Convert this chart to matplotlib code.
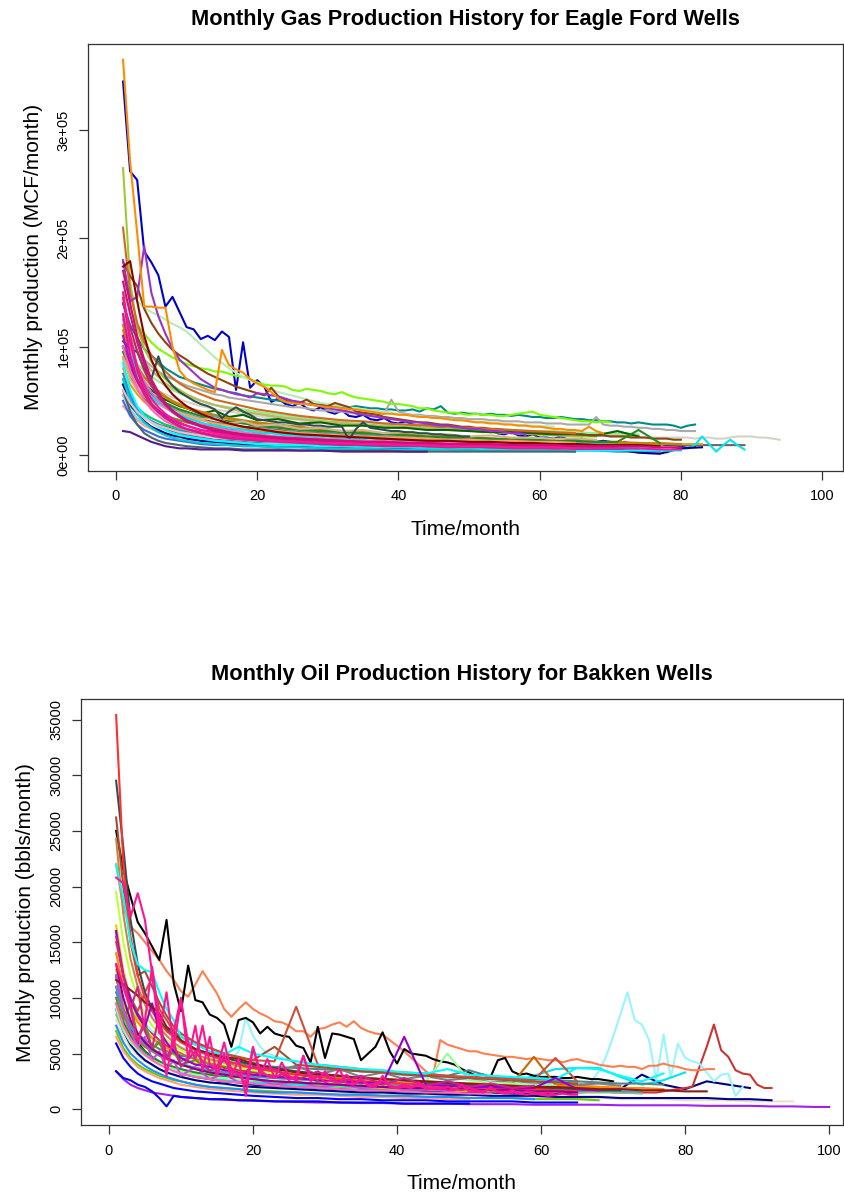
import matplotlib
matplotlib.use("Agg")
import matplotlib.pyplot as plt

plt.rcParams['font.family'] = ['Liberation Sans', 'DejaVu Sans']

# === GAS: Eagle Ford, thousand MCF per month ===
# coarse month grid used by most wells
gas_grid = [1, 2, 3, 4, 5, 6, 7, 8, 9, 10, 12, 14, 16, 18, 20, 23, 26, 29, 32, 35,
            38, 41, 44, 47, 50, 53, 56, 59, 62, 65, 68, 71, 74, 77, 80, 83, 86, 89, 92]

# wells read month by month (start at month 1)
gas_blue = [345, 262, 254, 188, 178, 166, 137, 146, 132, 118, 116, 107, 110, 106, 114, 109, 60, 104, 62, 69,
            63, 49, 52, 47, 45, 48, 43, 41, 44, 40, 38, 41, 36, 35, 37, 33, 32, 34, 30, 29,
            31, 28, 27, 29, 26, 25, 27, 24, 23, 25, 22, 21, 23, 20, 19, 21, 18, 17, 19, 16,
            16, 15, 17, 14, 14, 15, 13, 12, 13, 12, 11, 12, 10, 10, 10, 9, 10, 9, 9, 8, 9, 8]
gas_orange = [365, 271, 205, 137, 137, 136, 136, 100, 78, 70, 66, 63, 60, 58, 97, 83, 79, 76, 70, 66,
              63, 58, 52, 49, 48, 47, 47, 46, 45, 44, 44, 43, 42, 42, 41, 40, 39, 38, 38, 37,
              37, 36, 35, 35, 34, 34, 33, 32, 32, 31, 30, 30, 29, 29, 28, 28, 27, 27, 26, 26,
              25, 24, 24, 23, 23, 22, 26, 22, 20]
gas_purple = [180, 142, 146, 193, 150, 128, 112, 98, 88, 82, 76, 70, 66, 62, 60, 58, 56, 55, 53, 57,
              56, 55, 54, 52, 50, 49, 47, 46, 45, 43, 42, 41, 40, 38, 37, 36, 35, 34, 33, 32,
              31, 30, 30, 29, 28, 27, 27, 26, 25, 24, 24, 23, 22, 22, 21, 20, 20, 19]
gas_lawngreen = [150, 135, 120, 112, 104, 98, 94, 90, 87, 84, 82, 80, 79, 77, 77, 75, 73, 72, 70, 67,
                 65, 64, 64, 63, 60, 59, 61, 60, 59, 57, 56, 58, 55, 53, 52, 51, 50, 49, 47, 47,
                 46, 45, 43, 43, 41, 40, 39, 39, 38, 37, 38, 37, 37, 36, 36, 37, 38, 39, 40, 37,
                 36, 35, 34, 33, 32, 31, 31, 30, 31, 30]
gas_teal = [140, 120, 108, 98, 92, 86, 80, 76, 72, 70, 67, 65, 63, 61, 60, 58, 57, 55, 54, 53,
            52, 51, 50, 49, 48, 47, 47, 46, 46, 45, 45, 44, 44, 45, 44, 43, 43, 42, 42, 41,
            41, 42, 40, 43, 42, 45, 39, 38, 39, 38, 38, 37, 38, 37, 37, 36, 37, 36, 35, 35,
            34, 34, 35, 34, 33, 33, 32, 32, 31, 31, 30, 30, 29, 30, 29, 28, 28, 28, 27, 25, 27, 28]
gas_gray = [120, 105, 95, 88, 82, 77, 73, 70, 67, 64, 62, 60, 58, 56, 55, 53, 52, 51, 50, 49,
            48, 47, 46, 45, 44, 44, 43, 42, 41, 41, 40, 40, 39, 39, 38, 38, 37, 38, 51, 40,
            38, 37, 37, 36, 36, 35, 35, 34, 34, 33, 33, 33, 32, 32, 31, 31, 31, 30, 30, 30,
            29, 29, 29, 28, 28, 28, 28, 35, 28, 27, 27, 26, 26, 25, 25, 24, 24, 23, 23, 22, 22, 22]
gas_beige = [95, 82, 74, 68, 63, 59, 56, 53, 51, 49, 47, 45, 44, 42, 41, 40, 39, 38, 37, 36,
             35, 35, 34, 33, 33, 32, 31, 31, 30, 30, 29, 29, 28, 28, 28, 27, 27, 26, 26, 26,
             25, 25, 25, 24, 24, 24, 23, 23, 23, 22, 22, 22, 21, 21, 21, 21, 20, 20, 20, 20,
             19, 19, 19, 19, 18, 18, 18, 18, 18, 17, 17, 17, 17, 17, 16, 16, 16, 16, 16, 16,
             16, 15, 16, 16, 15, 15, 16, 17, 17, 17, 16, 16, 15, 14]
gas_cyan = [130, 95, 75, 62, 54, 48, 44, 40, 37, 34, 32, 30, 28, 27, 26, 25, 24, 23, 22, 21,
            20, 20, 19, 18, 18, 17, 17, 16, 16, 15, 15, 15, 14, 14, 14, 13, 13, 13, 12, 12,
            12, 12, 11, 11, 11, 11, 10, 10, 10, 10, 10, 9, 9, 9, 9, 9, 9, 8, 8, 8,
            8, 8, 8, 8, 7, 7, 7, 7, 7, 7, 7, 6, 6, 6, 6, 6, 6, 2, 6, 6, 6, 9, 17, 10, 3, 9, 14, 9, 5]
gas_slate = [105, 98, 95, 80, 70, 91, 72, 64, 58, 54, 50, 47, 45, 42, 34, 40, 44, 40, 37, 33,
             32, 31, 30, 30, 29, 28, 28, 27, 27, 26, 26, 26, 14, 24, 30, 25, 24, 23, 22, 22,
             21, 21, 20, 20, 19, 19, 18, 18, 17, 17]
gas_brown = [178, 165, 156, 135, 122, 112, 104, 97, 92, 88, 83, 79, 75, 72, 69, 66, 63, 61, 59, 57,
             55, 62, 54, 51, 49, 48, 51, 47, 46, 45, 48, 46, 44, 40, 39, 38, 37, 35, 34, 33,
             32, 31, 30, 30, 29, 28, 28, 27, 26, 26, 25, 25, 24, 24, 23, 23, 22, 22, 21, 21,
             21, 20, 20, 20, 19, 19, 18, 18, 18, 17, 17, 17, 16, 16, 16, 15, 15, 15, 14, 14]

# wells read on gas_grid
gas_yellowgreen = [265, 160, 118, 98, 86, 77, 70, 64, 60, 56, 50, 46, 43, 40, 38, 35, 33, 31, 29, 27,
                   26, 25, 24, 23, 22, 21, 20, 19, 18, 17, 17]
gas_chocolate = [210, 150, 122, 104, 92, 84, 77, 71, 66, 62, 56, 51, 48, 45, 42, 39, 36, 34, 32, 31,
                 29, 28, 27, 26, 25, 24, 23, 22, 21, 20]
gas_darkred = [174, 179, 142, 110, 88, 74, 64, 56, 50, 45, 38, 33, 29, 26, 24, 21, 19, 18, 17, 16,
               15, 14, 13, 13, 12, 12, 11, 11, 10, 10, 9, 9, 9, 8]
gas_palegreen = [160, 150, 142, 136, 132, 129, 125, 121, 118, 114, 102, 90, 80, 72, 66, 58, 53, 48, 45, 42,
                 40, 37, 35, 33, 31, 30, 28, 27, 26]
gas_goldenrod = [120, 95, 82, 72, 65, 59, 54, 50, 47, 44, 40, 37, 34, 32, 30, 28, 26, 24, 22, 21,
                 20, 19, 18, 17, 16, 15, 14, 14, 13, 12, 12, 11, 11, 10, 10]
gas_forest = [95, 80, 70, 62, 56, 52, 48, 45, 42, 40, 36, 33, 31, 29, 27, 25, 23, 22, 21, 20,
              19, 18, 17, 16, 16, 15, 14, 14, 13, 13, 12, 12, 23, 11]
gas_cadet = [110, 88, 74, 64, 57, 51, 47, 44, 41, 38, 34, 36, 28, 31, 24, 26, 20, 22, 18, 19,
             16, 17, 14, 15, 13, 14, 12, 12, 11, 11, 10, 9]
gas_pink1 = [150, 110, 82, 64, 52, 44, 38, 33, 30, 27, 23, 20, 18, 16, 15, 13, 12, 11, 11, 10,
             10, 9, 9, 8, 8, 8, 7, 7, 7, 6, 6, 6, 6, 5, 5]
gas_violet = [160, 130, 104, 84, 68, 56, 47, 40, 35, 31, 26, 22, 20, 18, 17, 15, 14, 13, 12, 12,
              11, 11, 10, 10, 9, 9, 9, 8, 8, 8, 7, 7]
gas_pink2 = [130, 92, 70, 56, 46, 39, 34, 30, 27, 24, 21, 18, 16, 15, 14, 13, 12, 11, 10, 10,
             9, 9, 8, 8, 8, 7, 7, 7, 6, 6, 6]
gas_maroon = [140, 118, 96, 78, 64, 54, 46, 40, 36, 32, 27, 24, 21, 19, 18, 16, 15, 14, 13, 12,
              12, 11, 11, 10, 10, 9, 9, 9, 8]
gas_hotpink = [100, 78, 62, 50, 42, 36, 31, 28, 25, 23, 20, 18, 16, 15, 14, 13, 12, 11, 10, 10,
               9, 9, 8, 8, 8, 7, 7]
gas_aqua = [85, 60, 45, 36, 30, 26, 23, 20, 18, 17, 15, 13, 12, 11, 10, 9, 9, 8, 8, 7,
            7, 7, 6, 6, 6, 5, 5, 5, 5, 4, 4, 4, 4, 4, 4]
gas_turq = [70, 50, 38, 30, 25, 21, 18, 16, 14, 13, 11, 10, 9, 8, 8, 7, 7, 6, 6, 6,
            5, 5, 5, 5, 4, 4, 4, 4, 4, 3]
gas_purple4 = [22, 21, 18, 15, 12, 10, 8, 7, 6, 6, 5, 5, 5, 4, 4, 4, 4, 4, 3, 3, 3, 3, 3]
gas_slate2 = [60, 40, 28, 20, 16, 13, 11, 10, 9, 8, 7, 6, 6, 5, 5, 5, 4, 4, 4, 4,
              4, 3, 3, 3, 3, 3, 3, 3, 3, 3]
gas_steel = [75, 56, 44, 36, 31, 27, 24, 22, 20, 18, 16, 14, 13, 12, 11, 10, 9, 9, 8, 8,
             7, 7, 7, 6, 6, 6, 6, 5, 5, 5, 5, 5, 5]
gas_salmon = [45, 38, 32, 27, 24, 21, 19, 17, 16, 15, 13, 12, 11, 10, 10, 9, 9, 8, 8, 7,
              7, 7, 6, 6, 6, 6, 5]
gas_orange2 = [115, 95, 82, 72, 64, 58, 53, 49, 46, 43, 39, 36, 33, 31, 29, 27, 25, 23, 22, 21,
               20, 19, 18, 17, 16, 15, 15, 14, 13, 13, 12, 12, 11, 11, 10, 10]
gas_olive = [90, 72, 60, 52, 46, 41, 37, 34, 32, 30, 27, 29, 23, 25, 20, 21, 17, 18, 15, 16,
             14, 13, 13, 12, 12, 11, 11, 10, 10, 10, 9]
gas_orchid = [125, 100, 82, 68, 58, 50, 44, 39, 35, 32, 28, 25, 23, 21, 19, 17, 16, 15, 14, 13,
              13, 12, 12, 11, 11, 10, 10, 10, 9]
gas_navy = [65, 48, 38, 31, 26, 23, 20, 18, 17, 15, 13, 12, 11, 10, 9, 9, 8, 8, 7, 7,
            7, 6, 6, 6, 6, 5, 5, 5, 5, 5, 5, 5, 2, 1, 6, 7]
gas_lightgreen = [105, 92, 84, 78, 72, 68, 64, 60, 57, 54, 50, 46, 44, 42, 40, 37, 35, 33, 32, 30,
                  29, 28, 27, 26, 25, 24, 23, 22, 22, 21, 20, 20, 19]
gas_gold = [80, 65, 56, 49, 44, 40, 37, 34, 32, 30, 28, 26, 24, 23, 22, 20, 19, 18, 17, 16,
            16, 15, 15, 14, 14, 13, 13, 12, 12, 12, 11, 11, 11, 10, 10, 10]
gas_seagreen = [55, 45, 39, 34, 31, 28, 26, 24, 22, 21, 19, 17, 16, 15, 14, 13, 12, 12, 11, 11,
                10, 10, 9, 9, 9, 8, 8, 8]
gas_royal = [50, 36, 28, 23, 20, 17, 15, 14, 13, 12, 10, 9, 9, 8, 8, 7, 7, 6, 6, 6,
             5, 5, 5, 5, 4, 4, 4, 4, 4, 4, 4, 3, 3, 3]
gas_gray40 = [100, 80, 68, 60, 54, 49, 45, 42, 39, 37, 33, 30, 28, 26, 25, 23, 21, 20, 19, 18,
              17, 16, 15, 15, 14, 13, 13, 12, 12, 11, 11, 10, 10, 10, 9, 9, 9, 9]
gas_sandy = [90, 75, 65, 58, 52, 47, 43, 40, 37, 35, 32, 29, 27, 25, 24, 22, 20, 19, 18, 17,
             16, 16, 15, 14, 14, 13, 13, 12, 12, 11]
gas_magenta = [110, 85, 68, 56, 47, 41, 36, 32, 29, 27, 23, 21, 19, 17, 16, 15, 14, 13, 12, 11,
               11, 10, 10, 9, 9, 9, 8, 8]
gas_violetred = [145, 105, 78, 60, 48, 40, 34, 30, 26, 24, 20, 17, 15, 14, 13, 12, 11, 10, 9, 9,
                 8, 8, 8, 7, 7, 7, 6, 6, 6, 6]
gas_tan = [88, 70, 60, 55, 50, 47, 44, 41, 39, 37, 33, 34, 29, 31, 27, 28, 24, 25, 22, 23,
           20, 21, 19, 19, 17, 18, 16, 16, 15, 15, 14]
gas_darkgreen = [100, 85, 74, 66, 60, 55, 51, 48, 45, 43, 38, 41, 35, 37, 32, 33, 29, 30, 27, 27,
                 25, 25, 23, 23, 22, 21, 21, 20, 19, 19, 18, 22, 17]
gas_dodger = [70, 52, 42, 35, 31, 28, 25, 23, 22, 20, 18, 17, 15, 15, 13, 13, 12, 11, 11, 10,
              10, 9, 9, 9, 8, 8, 8, 7, 7, 7, 7, 6, 6]
gas_lightpink = [60, 48, 40, 34, 30, 27, 25, 23, 21, 20, 18, 16, 15, 14, 13, 12, 11, 11, 10, 10,
                 9, 9, 9, 8, 8, 8, 7]
gas_khaki = [130, 110, 96, 86, 78, 72, 66, 62, 58, 55, 50, 46, 43, 40, 38, 35, 33, 31, 30, 28,
             27, 26, 25, 24, 23, 22, 21, 20, 20, 19, 18, 18, 17]
gas_deeppink3 = [170, 140, 110, 88, 70, 58, 48, 41, 36, 32, 27, 23, 21, 19, 17, 16, 15, 14, 13, 12,
                 12, 11, 11, 10, 10, 10, 9, 9, 9, 8, 8, 8, 8, 7, 7]
gas_spring = [65, 52, 44, 38, 34, 31, 28, 26, 24, 22, 20, 18, 17, 16, 15, 14, 13, 12, 12, 11,
              11, 10, 10, 9, 9, 9, 8, 8, 8, 8]
gas_skyblue = [55, 42, 34, 29, 25, 22, 20, 18, 17, 16, 14, 13, 12, 11, 10, 10, 9, 9, 8, 8,
               8, 7, 7, 7, 7, 6, 6]

# === OIL: Bakken, thousand bbls per month ===
oil_grid = [1, 2, 3, 4, 5, 6, 7, 8, 9, 10, 12, 14, 16, 18, 20, 23, 26, 29, 32, 35,
            38, 41, 44, 47, 50, 53, 56, 59, 62, 65, 68, 71, 74, 77, 80, 83, 86, 89, 92, 95, 98, 100]

# wells read month by month (start at month 1)
oil_black = [25.0, 21.5, 19.1, 16.8, 15.8, 14.6, 13.4, 17.0, 11.3, 8.8, 12.9, 9.8, 9.6, 8.5, 8.2, 7.6, 5.6, 8.0, 8.2, 7.8,
             6.8, 7.4, 6.8, 6.6, 6.5, 5.7, 5.5, 4.2, 7.4, 4.6, 6.8, 6.7, 6.5, 6.3, 4.4, 5.0, 5.6, 6.9, 5.2, 4.1,
             5.4, 5.0, 4.9, 4.8, 4.5, 4.3, 4.2, 4.0, 3.6, 3.3, 3.0, 3.1, 2.9, 4.4, 4.6, 3.4, 3.1, 3.2, 3.0, 2.9,
             2.9, 2.9, 2.8, 2.8, 2.9, 2.8, 2.7, 2.7, 2.6, 2.5]
oil_coral = [22.0, 18.0, 16.4, 15.8, 15.0, 14.2, 13.4, 12.4, 11.6, 10.6, 10.1, 11.2, 12.4, 11.4, 10.4, 9.0, 8.3, 9.0, 9.6, 9.0,
             8.6, 8.3, 7.9, 7.8, 7.5, 7.0, 7.0, 6.5, 7.2, 7.3, 7.6, 7.8, 7.4, 7.9, 7.3, 7.0, 6.8, 6.7, 6.2, 5.7,
             5.2, 4.6, 4.0, 3.4, 3.0, 6.2, 5.8, 5.6, 5.4, 5.2, 5.2, 5.0, 4.9, 4.8, 4.7, 4.7, 4.6, 4.5, 4.6, 4.5,
             4.4, 4.4, 4.2, 4.4, 4.5, 4.3, 4.2, 4.0, 3.9, 3.8, 3.9, 3.8, 3.8, 3.6, 3.9, 3.9, 4.1, 3.9, 3.8, 3.6,
             3.5, 3.5, 3.6, 3.6]
oil_lightcyan = [14.0, 11.0, 9.0, 8.2, 7.6, 7.0, 6.6, 6.2, 5.9, 5.6, 5.4, 5.2, 5.0, 4.8, 4.7, 4.6, 4.5, 5.2, 8.2, 6.6,
                 5.6, 5.0, 4.8, 4.6, 4.4, 4.3, 4.2, 4.0, 3.9, 3.8, 3.7, 3.6, 3.6, 3.5, 3.4, 3.4, 3.3, 3.2, 3.2, 3.1,
                 3.0, 3.0, 2.9, 2.9, 2.8, 2.8, 2.7, 2.7, 2.7, 2.6, 2.6, 2.6, 2.5, 2.5, 2.5, 2.4, 2.4, 2.4, 2.4, 2.3,
                 2.3, 2.3, 2.2, 2.3, 2.4, 2.2, 2.5, 3.4, 4.7, 6.5, 8.5, 10.5, 8.0, 7.6, 6.2, 2.6, 6.7, 2.8, 5.9, 4.6,
                 4.3, 4.1, 3.3, 2.5, 3.1, 3.2, 1.2, 2.0]
oil_brown3 = [16.0, 12.0, 10.0, 8.6, 7.6, 6.8, 6.2, 5.7, 5.3, 5.0, 4.7, 4.5, 4.3, 4.1, 3.9, 3.7, 3.6, 3.5, 3.4, 3.3,
              3.2, 3.1, 3.0, 3.0, 2.9, 2.8, 2.8, 2.7, 2.7, 2.6, 2.6, 2.5, 2.5, 2.4, 2.4, 2.4, 2.3, 2.3, 2.3, 2.2,
              2.2, 2.2, 2.1, 2.1, 2.1, 2.0, 2.0, 2.0, 2.0, 1.9, 1.9, 1.9, 1.9, 1.8, 1.8, 1.8, 1.8, 1.8, 1.7, 1.7,
              1.7, 1.7, 1.7, 1.6, 1.6, 1.6, 1.6, 1.6, 1.6, 1.5, 1.5, 1.5, 1.5, 1.5, 1.5, 1.5, 1.6, 1.7, 1.8, 1.9,
              2.0, 3.8, 5.6, 7.6, 5.3, 4.7, 3.5, 3.2, 3.1, 2.2, 1.9, 1.9]
oil_pink1 = [20.8, 20.3, 17.3, 19.4, 17.0, 12.2, 6.8, 10.5, 5.5, 9.8, 6.0, 4.5, 7.5, 4.0, 3.6, 6.0, 3.4, 3.2, 2.2, 5.6,
             3.0, 4.5, 2.8, 3.2, 2.6, 3.0, 4.8, 2.9, 2.6, 3.4, 2.5, 2.4, 3.1, 2.3, 2.6, 2.2, 2.3, 2.5, 2.1, 2.0,
             2.2, 2.0, 2.1, 1.9, 2.0, 1.8, 2.0, 1.8, 1.7, 1.9, 1.7, 1.6, 1.8, 1.6, 1.5, 1.7, 1.4, 1.6, 1.5, 1.4,
             1.5, 1.3, 1.4, 1.3, 1.3]
oil_pink2 = [13.0, 11.0, 9.0, 6.0, 8.0, 12.8, 8.0, 3.0, 7.0, 10.0, 4.5, 7.5, 3.5, 6.5, 3.0, 5.0, 2.8, 4.5, 1.2, 5.5,
             3.5, 3.0, 2.8, 4.2, 3.0, 2.6, 4.8, 2.5, 3.0, 2.4, 2.6, 3.6, 2.3, 2.2, 2.8, 2.1, 2.0, 3.0, 2.0, 1.9,
             2.0, 1.9, 2.4, 1.8, 1.8, 2.0, 1.7, 1.7, 2.2, 1.6, 1.6, 1.5, 2.0, 1.5, 1.4, 1.5, 1.4, 1.3, 1.4, 1.3,
             1.2, 1.3]

# wells read on oil_grid
oil_red = [35.4, 22.0, 15.5, 12.0, 10.0, 8.8, 7.8, 7.0, 6.5, 6.0, 5.3, 4.8, 4.4, 4.0, 3.7, 3.4, 3.1, 2.9, 2.7, 2.5,
           2.4, 2.3, 2.2, 2.1, 2.0, 1.9, 1.8, 1.8, 1.7, 1.6]
oil_slate = [29.5, 23.5, 17.0, 13.0, 10.5, 9.0, 8.0, 7.2, 6.6, 6.1, 5.4, 4.9, 4.6, 4.3, 4.0, 3.7, 3.4, 3.2, 3.0, 2.8,
             2.7, 2.6, 2.4, 2.3, 2.2, 2.1, 2.0, 1.9, 1.9, 1.8, 1.7, 1.7]
oil_purple = [3.4, 2.7, 2.2, 1.9, 1.7, 1.5, 1.4, 1.3, 1.2, 1.1, 1.0, 0.9, 0.85, 0.8, 0.75, 0.7, 0.65, 0.6, 0.6, 0.55,
              0.55, 0.5, 0.5, 0.5, 0.45, 0.45, 0.45, 0.4, 0.4, 0.4, 0.4, 0.35, 0.35, 0.35, 0.35, 0.3, 0.3, 0.3, 0.25, 0.25,
              0.2, 0.2]
oil_maroon = [11.6, 11.2, 10.7, 10.2, 9.6, 9.2, 8.6, 7.4, 6.9, 6.2, 5.4, 5.0, 4.7, 4.5, 4.1, 3.6, 3.3, 3.1, 3.0, 2.8,
              2.7, 2.6, 2.5, 2.4, 2.3, 2.2, 2.1, 2.0, 2.0, 1.9, 1.8, 1.8, 1.7, 1.7, 1.6, 1.6]
oil_cyan = [21.9, 19.0, 15.0, 13.0, 12.5, 12.3, 10.5, 9.0, 8.0, 6.5, 5.8, 5.2, 4.9, 5.6, 5.0, 4.6, 4.3, 4.0, 3.8, 3.6,
            3.5, 3.3, 3.2, 3.6, 3.1, 3.0, 2.9, 2.8, 2.7, 3.7, 3.6, 3.0, 2.5, 3.2]
oil_greenyellow = [19.5, 15.0, 12.0, 10.0, 8.5, 7.5, 6.8, 6.2, 5.7, 5.3, 4.7, 4.3, 4.0, 3.7, 3.5, 3.2, 3.0, 2.8, 2.6, 2.5,
                   2.4, 2.3, 2.2, 2.1, 2.0, 1.9, 1.9, 1.8]
oil_sienna = [26.2, 20.0, 15.0, 12.0, 12.4, 11.0, 9.6, 8.4, 7.4, 6.8, 6.0, 5.5, 5.0, 4.7, 4.4, 5.6, 4.0, 3.8, 3.6, 3.4,
              3.3, 3.1, 3.0, 2.9, 2.8, 2.7, 2.6, 2.5, 2.4, 2.3]
oil_peru = [24.3, 17.5, 13.5, 11.0, 9.4, 8.2, 7.3, 6.6, 6.0, 5.5, 4.9, 4.5, 4.1, 3.8, 3.6, 3.3, 3.1, 2.9, 2.8, 2.6,
            2.5, 2.4, 2.3, 2.2, 2.1, 2.0, 2.0, 1.9, 1.8, 1.8, 1.7, 1.7]
oil_tomato = [15.0, 12.0, 10.0, 8.8, 10.5, 11.8, 9.0, 8.0, 7.0, 6.5, 5.8, 5.5, 5.0, 4.6, 4.4, 4.3, 9.2, 4.0, 3.8, 3.6,
              3.4, 3.3, 3.2, 3.0, 2.9, 2.8, 2.7, 2.6, 4.6, 2.5]
oil_orange = [14.0, 11.0, 9.0, 7.8, 7.0, 6.4, 5.9, 5.5, 5.2, 4.9, 4.5, 4.2, 3.9, 3.7, 3.5, 3.3, 3.1, 3.0, 2.9, 2.8,
              2.7, 2.6, 2.5, 2.4, 2.3, 2.3, 2.2, 2.1, 2.1, 2.0, 2.0, 1.9, 1.9, 1.8]
oil_darkviolet = [16.0, 12.0, 9.8, 8.4, 7.4, 9.5, 7.0, 6.0, 5.2, 4.6, 4.0, 3.8, 3.5, 3.3, 3.1, 2.9, 2.8, 2.6, 2.5, 2.4,
                  2.3, 6.5, 2.2, 2.1, 2.0, 2.0, 1.9, 1.9, 2.8, 1.8, 1.7]
oil_blue = [5.9, 4.6, 3.8, 3.2, 2.8, 2.5, 2.3, 2.1, 1.9, 1.8, 1.6, 1.5, 1.4, 1.3, 1.2, 1.1, 1.0, 1.0, 0.9, 0.9,
            0.8, 0.8, 0.8, 0.7, 0.7, 0.7, 0.7, 0.6, 0.6, 0.6]
oil_blue2 = [3.4, 2.8, 2.6, 2.2, 2.0, 1.6, 1.0, 0.25, 1.2, 1.1, 1.0, 0.9, 0.9, 0.8, 0.8, 0.7, 0.7, 0.7, 0.6, 0.6,
             0.6, 0.5, 0.5, 0.5, 0.5]
oil_navy = [9.0, 7.0, 5.8, 5.0, 4.4, 4.0, 3.6, 3.3, 3.1, 2.9, 2.6, 2.4, 2.3, 2.1, 2.0, 1.9, 1.8, 1.7, 1.6, 1.5,
            1.5, 1.4, 1.4, 1.3, 1.3, 1.2, 1.2, 1.2, 1.1, 1.1, 1.1, 1.0, 1.0, 1.0, 1.0, 1.0, 0.9, 0.9, 0.8]
oil_darkblue = [12.0, 9.0, 7.2, 6.0, 5.2, 4.6, 4.1, 3.8, 3.5, 3.2, 2.9, 2.7, 2.5, 2.4, 2.2, 2.1, 2.0, 1.9, 1.8, 1.7,
                1.7, 1.6, 1.6, 1.5, 1.5, 1.5, 1.4, 1.4, 1.4, 1.5, 1.6, 1.8, 3.1, 2.2, 1.8, 2.5, 2.2, 1.9]
oil_beige = [8.0, 6.5, 5.5, 4.8, 4.3, 3.9, 3.6, 3.3, 3.1, 2.9, 2.6, 2.4, 2.2, 2.1, 2.0, 1.9, 1.8, 1.7, 1.6, 1.5,
             1.4, 1.4, 1.3, 1.3, 1.2, 1.2, 1.1, 1.1, 1.0, 1.0, 1.0, 0.9, 0.9, 0.9, 0.8, 0.8, 0.8, 0.7, 0.7, 0.7]
oil_turquoise = [10.0, 8.0, 6.6, 5.7, 5.0, 4.5, 4.1, 3.8, 3.5, 3.3, 3.0, 2.8, 2.6, 2.5, 2.4, 2.3, 2.2, 2.1, 2.0, 1.9,
                 1.9, 1.8, 1.8, 1.7, 1.7, 1.8, 2.4, 3.0, 3.6, 3.7, 3.7, 2.9, 2.2, 2.6, 3.3]
oil_palegreen = [9.0, 7.2, 6.0, 5.3, 4.8, 4.4, 4.1, 3.8, 3.6, 3.4, 3.1, 2.9, 2.8, 2.7, 2.6, 2.5, 2.4, 2.3, 2.2, 2.3,
                 2.4, 2.6, 2.5, 5.0, 2.6, 2.4, 2.3, 2.2, 2.1]
oil_cadet = [10.5, 8.8, 7.6, 6.8, 6.2, 5.8, 5.4, 5.2, 5.0, 4.8, 4.6, 4.4, 4.3, 4.1, 4.0, 3.8, 3.7, 3.6, 3.5, 3.4,
             3.3, 3.2, 3.1, 3.0, 3.5, 2.9, 2.8, 2.7, 2.6, 2.5, 2.4, 2.3, 2.3, 2.2]
oil_chartreuse = [7.0, 5.5, 4.6, 4.0, 3.6, 3.3, 3.0, 2.8, 2.6, 2.5, 2.2, 2.0, 1.9, 1.8, 1.7, 1.6, 1.5, 1.4, 1.3, 1.3,
                  1.2, 1.2, 1.1, 1.1, 1.0, 1.0, 1.0, 0.9, 0.9, 0.9, 0.8]
oil_yellow = [12.5, 9.5, 7.8, 6.8, 6.0, 5.5, 5.0, 4.6, 4.3, 4.0, 3.6, 3.3, 3.1, 2.9, 2.7, 2.5, 2.4, 2.2, 2.1, 2.0,
              1.9, 1.8, 1.8, 1.7, 1.6, 1.6, 1.5]
oil_darkorange = [11.0, 8.5, 7.0, 6.2, 5.6, 5.2, 4.8, 4.5, 4.2, 4.0, 3.7, 3.5, 3.3, 3.1, 3.0, 2.8, 2.7, 2.6, 2.5, 2.4,
                  2.3, 2.2, 2.2, 2.1, 2.1, 2.4, 2.3, 4.7, 2.2, 2.1, 2.0, 1.9]
oil_seagreen = [8.5, 7.0, 6.0, 5.4, 4.9, 4.5, 4.2, 3.9, 3.7, 3.5, 3.2, 3.0, 2.9, 2.7, 2.6, 2.5, 2.4, 2.3, 2.2, 2.1,
                2.0, 1.9, 1.9, 1.8, 1.8, 1.7, 1.7, 1.6, 1.6, 1.5, 1.5, 1.5, 1.4]
oil_violetred = [15.5, 12.0, 9.0, 11.0, 7.0, 5.5, 8.5, 4.5, 6.0, 3.8, 5.2, 3.4, 4.4, 3.0, 3.8, 3.6, 2.6, 3.4, 2.4, 3.0,
                 2.2, 2.8, 2.1, 2.5, 2.0, 2.3, 1.9, 2.1]
oil_hotpink = [9.5, 7.5, 6.3, 5.5, 4.9, 4.4, 4.0, 3.7, 3.4, 3.2, 2.9, 2.7, 2.5, 2.4, 2.3, 2.1, 2.0, 1.9, 1.8, 1.7,
               1.7, 1.6, 1.5, 1.5, 1.4, 1.4]
oil_darkmagenta = [13.0, 10.0, 8.0, 6.8, 6.0, 5.4, 5.0, 4.6, 4.3, 4.0, 3.6, 3.3, 3.1, 2.9, 2.7, 2.5, 2.4, 2.3, 2.2, 2.1,
                   2.0, 1.9, 1.9, 1.8, 1.8, 1.7, 1.7, 1.6, 1.6, 1.5]
oil_gray = [12.0, 9.0, 7.5, 6.4, 8.0, 5.4, 6.2, 4.8, 5.5, 4.3, 4.9, 3.9, 4.6, 3.6, 4.2, 3.4, 3.9, 3.1, 3.6, 2.9,
            3.3, 2.7, 3.0, 2.6, 2.8, 2.4, 2.6, 2.3, 2.5, 2.2, 2.3, 2.1]
oil_dodger = [7.5, 6.0, 5.0, 4.4, 3.9, 3.5, 3.2, 2.9, 2.7, 2.5, 2.2, 2.0, 1.9, 1.8, 1.6, 1.5, 1.5, 1.4, 1.3, 1.3,
              1.2, 1.2, 1.1, 1.1, 1.0, 1.0, 1.0, 0.9]
oil_olive = [10.0, 8.0, 9.5, 6.5, 7.5, 5.4, 6.0, 4.6, 5.2, 4.0, 4.4, 3.5, 3.9, 3.1, 3.5, 2.8, 3.1, 2.5, 2.8, 2.3,
             2.5, 2.1, 2.3, 2.0, 2.1, 1.9, 1.9]
oil_gold = [16.5, 12.5, 9.8, 8.2, 7.2, 6.4, 5.8, 5.3, 4.9, 4.6, 4.1, 3.8, 3.5, 3.3, 3.1, 2.9, 2.7, 2.6, 2.4, 2.3,
            2.2, 2.1, 2.0, 1.9, 1.9, 1.8, 1.7, 1.7, 1.6, 1.6]
oil_salmon = [6.5, 5.2, 4.4, 3.8, 3.4, 3.1, 2.8, 2.6, 2.4, 2.2, 2.0, 1.8, 1.7, 1.6, 1.5, 1.4, 1.3, 1.3, 1.2, 1.1,
              1.1, 1.0, 1.0, 0.9, 0.9]
oil_steel = [11.0, 8.8, 7.4, 6.5, 5.8, 5.3, 4.9, 4.6, 4.3, 4.1, 3.7, 3.5, 3.3, 3.1, 2.9, 2.8, 2.7, 2.6, 2.5, 2.4,
             2.3, 2.2, 2.1, 2.1, 2.0, 1.9, 1.9, 1.8, 1.8, 1.7, 1.7, 1.6, 1.6]
oil_forest = [9.5, 7.8, 6.6, 5.8, 5.2, 4.7, 4.3, 4.0, 3.8, 3.6, 3.3, 3.1, 2.9, 2.8, 2.6, 2.5, 2.4, 2.3, 2.2, 2.1,
              2.0, 2.0, 1.9, 1.8, 1.8, 1.7, 1.7]
oil_orchid = [12.0, 9.0, 7.0, 5.6, 6.5, 4.4, 5.2, 3.6, 4.4, 3.0, 3.8, 2.7, 3.2, 2.4, 2.8, 2.2, 2.5, 2.0, 2.2, 1.9,
              2.0, 1.8, 1.8, 1.7]


def monthly(vals):
    return list(range(1, len(vals) + 1))


# (values, months, colour) in drawing order
gas_wells = [
    (gas_blue, monthly(gas_blue), "#0000CD"),
    (gas_gray40, gas_grid, "#666666"), (gas_beige, monthly(gas_beige), "#D6D2C4"),
    (gas_teal, monthly(gas_teal), "#008B8B"), (gas_gray, monthly(gas_gray), "#A9A9A9"),
    (gas_lawngreen, monthly(gas_lawngreen), "#7CFC00"), (gas_palegreen, gas_grid, "#B4EEB4"),
    (gas_yellowgreen, gas_grid, "#9ACD32"), (gas_lightgreen, gas_grid, "#90EE90"),
    (gas_khaki, gas_grid, "#BDB76B"), (gas_darkgreen, gas_grid, "#006400"),
    (gas_orange2, gas_grid, "#EE7600"), (gas_gold, gas_grid, "#DAA520"),
    (gas_goldenrod, gas_grid, "#B8860B"), (gas_brown, monthly(gas_brown), "#8B4513"),
    (gas_chocolate, gas_grid, "#D2691E"), (gas_purple, monthly(gas_purple), "#9A32CD"),
    (gas_cadet, gas_grid, "#5F9EA0"), (gas_forest, gas_grid, "#228B22"),
    (gas_olive, gas_grid, "#6B8E23"), (gas_sandy, gas_grid, "#F4A460"), (gas_tan, gas_grid, "#D2B48C"),
    (gas_slate, monthly(gas_slate), "#2F4F4F"), (gas_orange, monthly(gas_orange), "#FF8C00"),
    (gas_cyan, monthly(gas_cyan), "#00E5EE"), (gas_spring, gas_grid, "#00CD66"),
    (gas_seagreen, gas_grid, "#2E8B57"), (gas_salmon, gas_grid, "#FFA07A"),
    (gas_steel, gas_grid, "#4682B4"), (gas_royal, gas_grid, "#4169E1"), (gas_dodger, gas_grid, "#1E90FF"),
    (gas_skyblue, gas_grid, "#87CEFA"), (gas_navy, gas_grid, "#000080"), (gas_aqua, gas_grid, "#00FFFF"),
    (gas_turq, gas_grid, "#00CED1"), (gas_slate2, gas_grid, "#4A6670"),
    (gas_purple4, gas_grid, "#551A8B"), (gas_orchid, gas_grid, "#DA70D6"),
    (gas_magenta, gas_grid, "#CD00CD"), (gas_darkred, gas_grid, "#8B0000"),
    (gas_lightpink, gas_grid, "#FFB6C1"), (gas_hotpink, gas_grid, "#FF69B4"),
    (gas_maroon, gas_grid, "#B03060"), (gas_pink2, gas_grid, "#EE1289"),
    (gas_violet, gas_grid, "#C71585"), (gas_deeppink3, gas_grid, "#CD1076"),
    (gas_violetred, gas_grid, "#D02090"), (gas_pink1, gas_grid, "#FF1493"),
]

oil_wells = [
    (oil_beige, oil_grid, "#EEDFCC"), (oil_navy, oil_grid, "#00008B"),
    (oil_purple, oil_grid, "#A020F0"), (oil_darkblue, oil_grid, "#000080"),
    (oil_brown3, monthly(oil_brown3), "#CD3333"), (oil_lightcyan, monthly(oil_lightcyan), "#98F5FF"),
    (oil_turquoise, oil_grid, "#00E5EE"), (oil_coral, monthly(oil_coral), "#FF7F50"),
    (oil_black, monthly(oil_black), "#000000"), (oil_seagreen, oil_grid, "#8FBC8F"),
    (oil_chartreuse, oil_grid, "#66CD00"), (oil_yellow, oil_grid, "#CDCD00"),
    (oil_gold, oil_grid, "#EEC900"), (oil_forest, oil_grid, "#228B22"),
    (oil_darkorange, oil_grid, "#CD6600"), (oil_orange, oil_grid, "#FF8C00"),
    (oil_cadet, oil_grid, "#53868B"), (oil_gray, oil_grid, "#7F7F7F"),
    (oil_palegreen, oil_grid, "#98FB98"), (oil_olive, oil_grid, "#6B8E23"),
    (oil_peru, oil_grid, "#CD853F"), (oil_sienna, oil_grid, "#A0522D"),
    (oil_tomato, oil_grid, "#CD4F39"), (oil_greenyellow, oil_grid, "#C0FF3E"),
    (oil_salmon, oil_grid, "#FFA07A"), (oil_steel, oil_grid, "#4F94CD"), (oil_dodger, oil_grid, "#1E90FF"),
    (oil_slate, oil_grid, "#2F4F4F"), (oil_red, oil_grid, "#FF3030"),
    (oil_cyan, oil_grid, "#00FFFF"), (oil_blue, oil_grid, "#0000FF"),
    (oil_blue2, oil_grid, "#0000EE"), (oil_darkviolet, oil_grid, "#9400D3"),
    (oil_orchid, oil_grid, "#BA55D3"), (oil_darkmagenta, oil_grid, "#8B008B"),
    (oil_hotpink, oil_grid, "#FF69B4"), (oil_maroon, oil_grid, "#8B1A1A"),
    (oil_violetred, oil_grid, "#D02090"),
    (oil_pink2, monthly(oil_pink2), "#FF1493"), (oil_pink1, monthly(oil_pink1), "#FF1493"),
]


def style_axes(ax, xlim, ylim, yticks, ylabels, title, ylabel):
    ax.set_xlim(*xlim)
    ax.set_ylim(*ylim)
    ax.set_xticks([0, 20, 40, 60, 80, 100])
    ax.set_yticks(yticks)
    ax.set_yticklabels(ylabels, rotation=90, va="center")
    ax.tick_params(direction="out", length=6.5, width=0.9, color="#333333",
                   labelsize=10.5, pad=7)
    ax.tick_params(axis="y", pad=6)
    for s in ax.spines.values():
        s.set_color("#333333")
        s.set_linewidth(0.9)
    ax.set_title(title, fontsize=15.7, fontweight="bold", pad=14)
    ax.set_xlabel("Time/month", fontsize=15, labelpad=12)
    ax.set_ylabel(ylabel, fontsize=15, labelpad=10)


fig = plt.figure(figsize=(8.44, 11.97), dpi=100)
ax1 = fig.add_axes([0.1043, 0.6068, 0.8945, 0.3564])
ax2 = fig.add_axes([0.0956, 0.0602, 0.9032, 0.3556])

for vals, months, color in gas_wells:
    ax1.plot(months[:len(vals)], [v * 1000 for v in vals], color=color, lw=1.5)
for vals, months, color in oil_wells:
    ax2.plot(months[:len(vals)], [v * 1000 for v in vals], color=color, lw=1.5)

style_axes(ax1, (-3.96, 102.96), (-14600, 379600), [0, 100000, 200000, 300000],
           ["0e+00", "1e+05", "2e+05", "3e+05"],
           "Monthly Gas Production History for Eagle Ford Wells",
           "Monthly production (MCF/month)")
style_axes(ax2, (-3.92, 101.92), (-1416, 36816), list(range(0, 35001, 5000)),
           [str(v) for v in range(0, 35001, 5000)],
           "Monthly Oil Production History for Bakken Wells",
           "Monthly production (bbls/month)")

fig.savefig("out.png", dpi=100)
